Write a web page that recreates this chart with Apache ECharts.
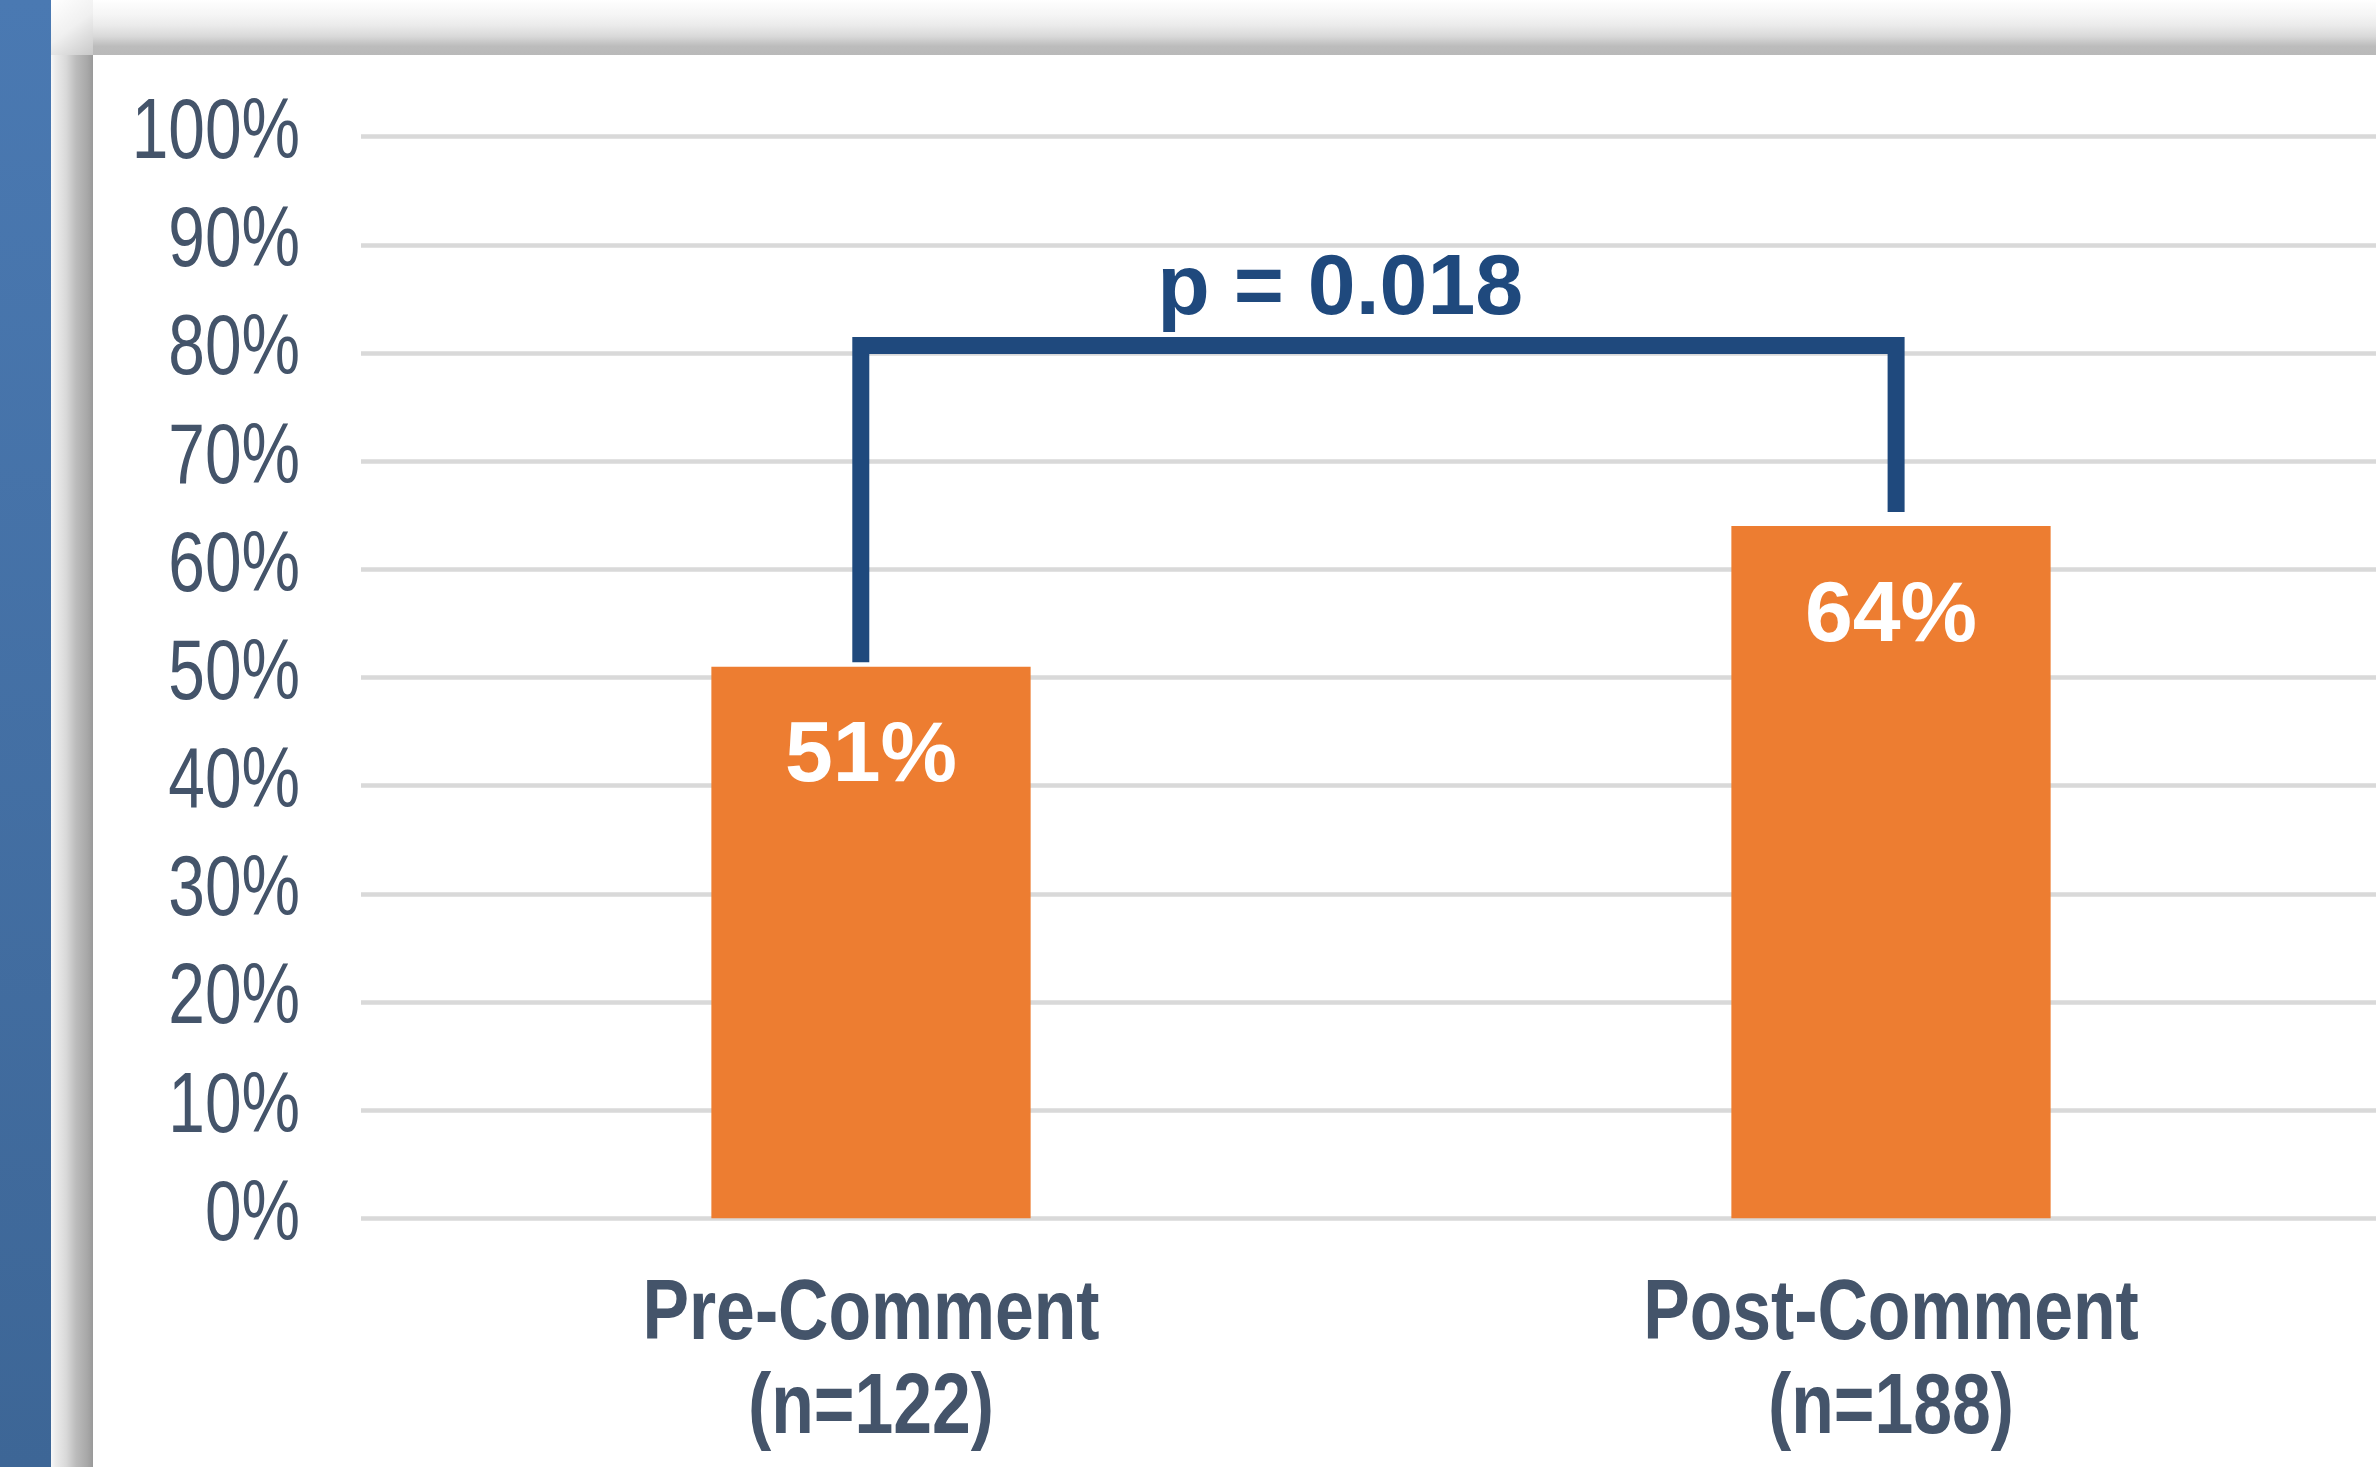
<!DOCTYPE html>
<html><head><meta charset="utf-8">
<script src="https://cdn.jsdelivr.net/npm/echarts@6/dist/echarts.min.js"></script>
<style>html,body{margin:0;padding:0;background:#fff;overflow:hidden}#c{width:2376px;height:1467px}</style>
</head><body><div id="c"></div>
<script>
// ---- data ----
const categories = ['Pre-Comment', 'Post-Comment'];
const sampleSizes = [122, 188];
const percentValues = [51, 64];
const yTicks = [0, 10, 20, 30, 40, 50, 60, 70, 80, 90, 100];
const yTickLabels = ['0%', '10%', '20%', '30%', '40%', '50%', '60%', '70%', '80%', '90%', '100%'];
// significance bracket (x in category units, y in percent)
const bracketX = [-0.01, -0.01, 1.005, 1.005];
const bracketY = [51.4, 80.7, 80.7, 65.3];
const pValueText = 'p = 0.018';

// ---- styles ----
const TEXT2 = '#44546A';
const NAVY = '#1F497D';
const ORANGE = '#ED7D31';
const SANS = "'Liberation Sans', Arial, sans-serif";

const xLabels = categories.map((c, i) => c + '\n(n=' + sampleSizes[i] + ')');
const bracketPoints = bracketX.map((x, i) => [x, bracketY[i]]);

const chart = echarts.init(document.getElementById('c'), null, {renderer: 'canvas'});
chart.setOption({
  backgroundColor: '#ffffff',
  animation: false,
  grid: {left: 361, top: 136.7, width: 2040, height: 1081.6, containLabel: false, outerBoundsMode: 'none'},
  xAxis: [{
    type: 'category',
    data: xLabels,
    axisLine: {show: false},
    axisTick: {show: false},
    splitLine: {show: false},
    axisLabel: {show: false}
  }, {
    type: 'value',
    min: -0.5,
    max: 1.5,
    show: false
  }],
  yAxis: {
    type: 'value',
    min: yTicks[0],
    max: yTicks[yTicks.length - 1],
    interval: yTicks[1] - yTicks[0],
    axisLine: {show: false},
    axisTick: {show: false},
    splitLine: {show: true, lineStyle: {color: '#D9D9D9', width: 4.5}},
    axisLabel: {show: false}
  },
  series: [
    {
      type: 'bar',
      data: percentValues,
      barWidth: '31.3%',
      itemStyle: {color: ORANGE},
      label: {
        show: true,
        position: 'insideTop',
        distance: 48,
        formatter: '{c}%',
        color: '#ffffff',
        fontFamily: SANS,
        fontWeight: 'bold',
        fontSize: 86
      }
    },
    {
      type: 'line',
      xAxisIndex: 1,
      data: bracketPoints,
      symbol: 'none',
      silent: true,
      lineStyle: {color: NAVY, width: 17, join: 'miter', cap: 'butt'},
      z: 5
    }
  ]
});

// ---- text placed through the axes' own scales ----
const graphics = [
  // slide frame: blue strip on the left
  {type: 'rect', z: 100, shape: {x: 0, y: 0, width: 51, height: 1467},
   style: {fill: new echarts.graphic.LinearGradient(0, 0, 0, 1, [
     {offset: 0, color: '#4A79B2'}, {offset: 1, color: '#3D6696'}])}},
  // top shadow
  {type: 'rect', z: 100, shape: {x: 93, y: 0, width: 2283, height: 55},
   style: {fill: new echarts.graphic.LinearGradient(0, 0, 0, 1, [
     {offset: 0, color: '#ffffff'}, {offset: 0.07, color: '#fcfcfc'},
     {offset: 0.27, color: '#f5f5f5'}, {offset: 0.46, color: '#ebebeb'},
     {offset: 0.66, color: '#d9d9d9'}, {offset: 0.84, color: '#bcbcbc'},
     {offset: 1, color: '#b9b9b9'}])}},
  // left shadow
  {type: 'rect', z: 100, shape: {x: 51, y: 55, width: 42, height: 1412},
   style: {fill: new echarts.graphic.LinearGradient(0, 0, 1, 0, [
     {offset: 0, color: '#f8f8f8'}, {offset: 0.1, color: '#ececec'},
     {offset: 0.36, color: '#d9d9d9'}, {offset: 0.6, color: '#bbbbbb'},
     {offset: 0.86, color: '#a8a8a8'}, {offset: 1, color: '#999999'}])}},
  // corner blend
  {type: 'rect', z: 100, shape: {x: 51, y: 0, width: 42, height: 55},
   style: {fill: new echarts.graphic.LinearGradient(0, 0, 1, 1, [
     {offset: 0, color: '#ffffff'}, {offset: 0.5, color: '#f0f0f0'},
     {offset: 1, color: '#c8c8c8'}])}}
];

const gridLeftPx = chart.convertToPixel({xAxisIndex: 1}, -0.5);
const zeroPx = chart.convertToPixel({yAxisIndex: 0}, 0);

yTicks.forEach((v, i) => {
  graphics.push({
    type: 'text', z: 50,
    x: gridLeftPx - 61,
    y: chart.convertToPixel({yAxisIndex: 0}, v) - 2,
    scaleX: 0.774,
    style: {text: yTickLabels[i], fill: TEXT2, font: '85px ' + SANS,
            textAlign: 'right', textVerticalAlign: 'middle'}
  });
});

xLabels.forEach((lab, i) => {
  graphics.push({
    type: 'text', z: 50,
    x: chart.convertToPixel({xAxisIndex: 0}, i),
    y: zeroPx + 144,
    scaleX: 0.82,
    style: {text: lab, fill: TEXT2, font: 'bold 85px ' + SANS, lineHeight: 94,
            textAlign: 'center', textVerticalAlign: 'middle'}
  });
});

// p-value annotation above the bracket
const bracketTopPx = chart.convertToPixel({yAxisIndex: 0}, bracketY[1]);
graphics.push({
  type: 'text', z: 50,
  x: chart.convertToPixel({xAxisIndex: 1}, 0.46),
  y: bracketTopPx - 55,
  style: {text: pValueText, fill: NAVY, font: 'bold 86px ' + SANS,
          textAlign: 'center', textVerticalAlign: 'middle'}
});

chart.setOption({graphic: graphics});
</script>
</body></html>
